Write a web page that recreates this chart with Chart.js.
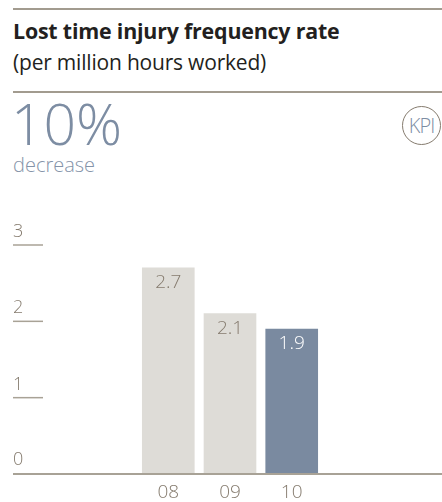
<!DOCTYPE html>
<html>
<head>
<meta charset="utf-8">
<script src="https://cdn.jsdelivr.net/npm/chart.js@4"></script>
<style>
    html, body { margin: 0; padding: 0; background: #ffffff; }
    body { width: 442px; height: 502px; position: relative; overflow: hidden; font-family: 'Open Sans', 'Noto Sans', sans-serif; }
    .rule { position: absolute; left: 13px; right: 0; height: 1.5px; background: #a29b8f; }
    .title { position: absolute; left: 13px; top: 16px; font-size: 21.4px; font-weight: 700; color: #231f20; letter-spacing: -0.2px; line-height: normal; }
    .sub { position: absolute; left: 13px; top: 48px; font-size: 21px; color: #231f20; letter-spacing: -0.2px; line-height: normal; }
    .big { position: absolute; left: 11px; top: 95px; font-size: 57px; font-weight: 300; color: #7d8da3; line-height: 1; }
    .dec { position: absolute; left: 13px; top: 151px; font-size: 20px; font-weight: 300; color: #8493a8; line-height: normal; }
    .kpi { position: absolute; left: 402px; top: 106px; width: 37px; height: 37px; border: 1.2px solid #857b6e; border-radius: 50%;
           display: flex; align-items: center; justify-content: center;
           font-size: 20px; font-weight: 300; color: #7d8da3; letter-spacing: -1px; }
    #wrap { position: absolute; left: 0; top: 200px; width: 446px; height: 312px; }
</style>
</head>
<body>
<div class="rule" style="top: 8px;"></div>
<div class="title">Lost time injury frequency rate</div>
<div class="sub">(per million hours worked)</div>
<div class="rule" style="top: 91px;"></div>
<div class="big">10%</div>
<div class="dec">decrease</div>
<div class="kpi">KPI</div>
<div id="wrap"><canvas id="chart"></canvas></div>
<script>
// data
const categories = ['', '', '08', '09', '10', '', ''];
const values = [null, null, 2.7, 2.1, 1.9, null, null];
const valueLabels = ['', '', '2.7', '2.1', '1.9', '', ''];
const yTicks = [0, 1, 2, 3];

const barColors = ['#dedcd7', '#dedcd7', '#dedcd7', '#dedcd7', '#7a8aa0', '#dedcd7', '#dedcd7'];
const labelColors = ['#857b6e', '#857b6e', '#857b6e', '#857b6e', '#ffffff', '#857b6e', '#857b6e'];

const axisColor = '#a8a296';
const textColor = '#857b6e';
const fontFamily = "'Open Sans', 'Noto Sans', sans-serif";

const decorPlugin = {
    id: 'decor',
    afterDraw(chart) {
        const ctx = chart.ctx;
        const y = chart.scales.y;
        ctx.save();
        // y ticks: short lines with the label sitting above
        ctx.font = '300 18px ' + fontFamily;
        ctx.fillStyle = textColor;
        ctx.textAlign = 'left';
        ctx.textBaseline = 'alphabetic';
        yTicks.forEach(function(v) {
            const py = y.getPixelForValue(v);
            if (v !== 0) {
                ctx.strokeStyle = axisColor;
                ctx.lineWidth = 1.5;
                ctx.beginPath();
                ctx.moveTo(13, py);
                ctx.lineTo(43, py);
                ctx.stroke();
                ctx.fillText(String(v), 13, py - 8);
            } else {
                ctx.fillText(String(v), 13, py - 9);
            }
        });
        // baseline
        const base = y.getPixelForValue(0);
        ctx.strokeStyle = axisColor;
        ctx.lineWidth = 2;
        ctx.beginPath();
        ctx.moveTo(13, base);
        ctx.lineTo(chart.width, base);
        ctx.stroke();
        // value labels inside bars
        const meta = chart.getDatasetMeta(0);
        ctx.font = '300 19px ' + fontFamily;
        ctx.textAlign = 'center';
        ctx.textBaseline = 'middle';
        meta.data.forEach(function(bar, i) {
            if (values[i] === null) return;
            ctx.fillStyle = labelColors[i];
            ctx.fillText(valueLabels[i], bar.x, bar.y + 15);
        });
        ctx.restore();
    }
};

new Chart(document.getElementById('chart'), {
    type: 'bar',
    data: {
        labels: categories,
        datasets: [{
            data: values,
            backgroundColor: barColors,
            borderWidth: 0,
            barThickness: 52
        }]
    },
    options: {
        responsive: true,
        maintainAspectRatio: false,
        animation: false,
        layout: {
            padding: { left: 14, right: 0, top: 45, bottom: 0 }
        },
        plugins: {
            legend: { display: false },
            tooltip: { enabled: false }
        },
        scales: {
            x: {
                grid: { display: false, drawTicks: false },
                border: { display: false },
                ticks: {
                    color: textColor,
                    padding: 7.6,
                    maxRotation: 0,
                    autoSkip: false,
                    font: { family: fontFamily, size: 19, weight: '300' }
                }
            },
            y: {
                display: false,
                min: 0,
                max: 3
            }
        }
    },
    plugins: [decorPlugin]
});
</script>
</body>
</html>
